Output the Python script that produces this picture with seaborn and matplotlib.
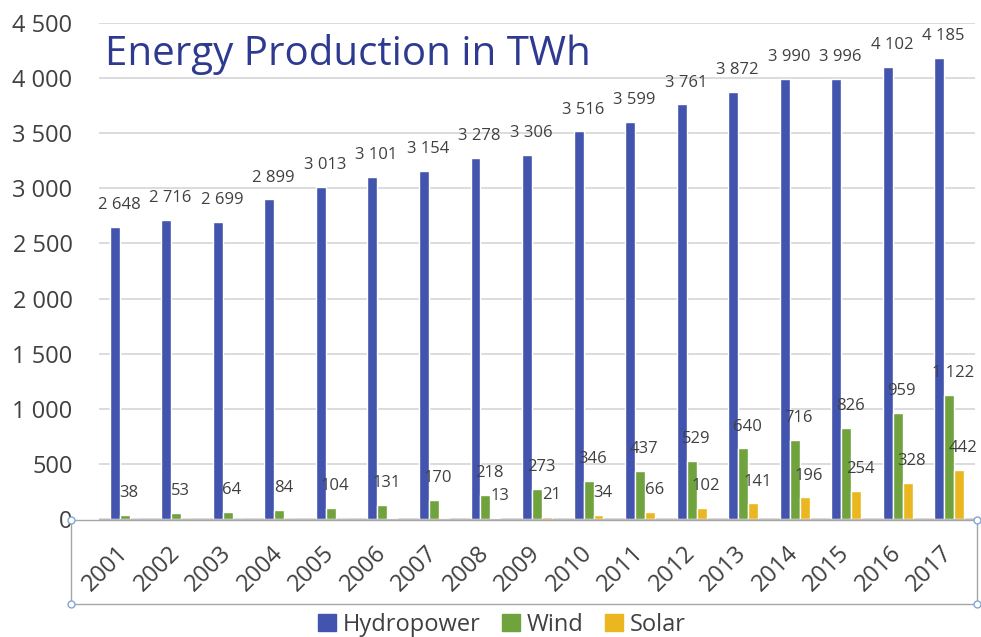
import numpy as np
import pandas as pd
import seaborn as sns
import matplotlib.pyplot as plt
from matplotlib.patches import Rectangle

years = [str(y) for y in range(2001, 2018)]
hydro = [2648, 2716, 2699, 2899, 3013, 3101, 3154, 3278, 3306, 3516,
         3599, 3761, 3872, 3990, 3996, 4102, 4185]
wind = [38, 53, 64, 84, 104, 131, 170, 218, 273, 346,
        437, 529, 640, 716, 826, 959, 1122]
solar = [1, 2, 3, 3, 4, 6, 8, 13, 21, 34,
         66, 102, 141, 196, 254, 328, 442]
# solar labels are not shown in the source before 2008
solar_shown = [False] * 7 + [True] * 10

sources = ["Hydropower", "Wind", "Solar"]
colors = ["#4354AE", "#70A23E", "#EBB720"]

df = pd.DataFrame({
    "year": years * 3,
    "source": [s for s in sources for _ in years],
    "twh": hydro + wind + solar,
})

sns.set_style("white")
plt.rcParams['font.family'] = ['Open Sans', 'DejaVu Sans']

fig = plt.figure(figsize=(9.81, 6.37), dpi=100)
ax = fig.add_axes([99/981, 1 - 519/637, 876/981, 496/637])

sns.barplot(data=df, x="year", y="twh", hue="source", palette=colors,
            width=0.58, saturation=1, ax=ax, legend=False)

ax.set_ylim(0, 4500)
ax.set_yticks(np.arange(0, 4501, 500))
ax.set_yticklabels([f"{v:,}".replace(",", " ") for v in range(0, 4501, 500)])
ax.yaxis.grid(True, color="#D6D6D6", linewidth=1.2)
ax.set_axisbelow(True)
for s in ["top", "right", "left"]:
    ax.spines[s].set_visible(False)
ax.spines["bottom"].set_color("#BFBFBF")
ax.set_xlabel("")
ax.set_ylabel("")
ax.tick_params(axis="y", length=0, pad=19, labelsize=17, labelcolor="#404040")
ax.tick_params(axis="x", length=0, pad=22, labelsize=17, labelcolor="#404040")
plt.setp(ax.get_xticklabels(), rotation=45, ha="right", va="center",
         rotation_mode="anchor")

# data labels
series = [hydro, wind, solar]
shown = [[True] * 17, [True] * 17, solar_shown]
for cont, vals, flags in zip(ax.containers, series, shown):
    for bar, v, f in zip(cont, vals, flags):
        if not f:
            continue
        ax.annotate(f"{v:,}".replace(",", " "),
                    (bar.get_x() + bar.get_width() / 2, bar.get_height()),
                    xytext=(3, 10), textcoords="offset points",
                    ha="center", va="bottom", fontsize=12, color="#404040")

ax.text(0.007, 0.937, "Energy Production in TWh", transform=ax.transAxes,
        fontsize=29, color="#2E3A8F", va="center", ha="left")

# box around the category axis
fig.patches.append(Rectangle((71/981, 1 - 604/637), 906/981, 84/637,
                             transform=fig.transFigure, fill=False,
                             edgecolor="#A6A6A6", linewidth=1))
for px, py in [(71, 520), (71, 604), (977, 520), (977, 604)]:
    fig.add_artist(plt.Line2D([px/981], [1 - py/637], marker="o", markersize=5,
                              markerfacecolor="white", markeredgecolor="#7FA7D9",
                              transform=fig.transFigure))

handles = [Rectangle((0, 0), 1, 1, color=c) for c in colors]
fig.legend(handles, sources, loc="center", bbox_to_anchor=(502/981, 1 - 625/637),
           ncol=3, frameon=False, fontsize=17, handlelength=0.75, handleheight=0.75,
           handletextpad=0.3, columnspacing=0.9, labelcolor="#404040")

fig.savefig("out.png", dpi=100)
